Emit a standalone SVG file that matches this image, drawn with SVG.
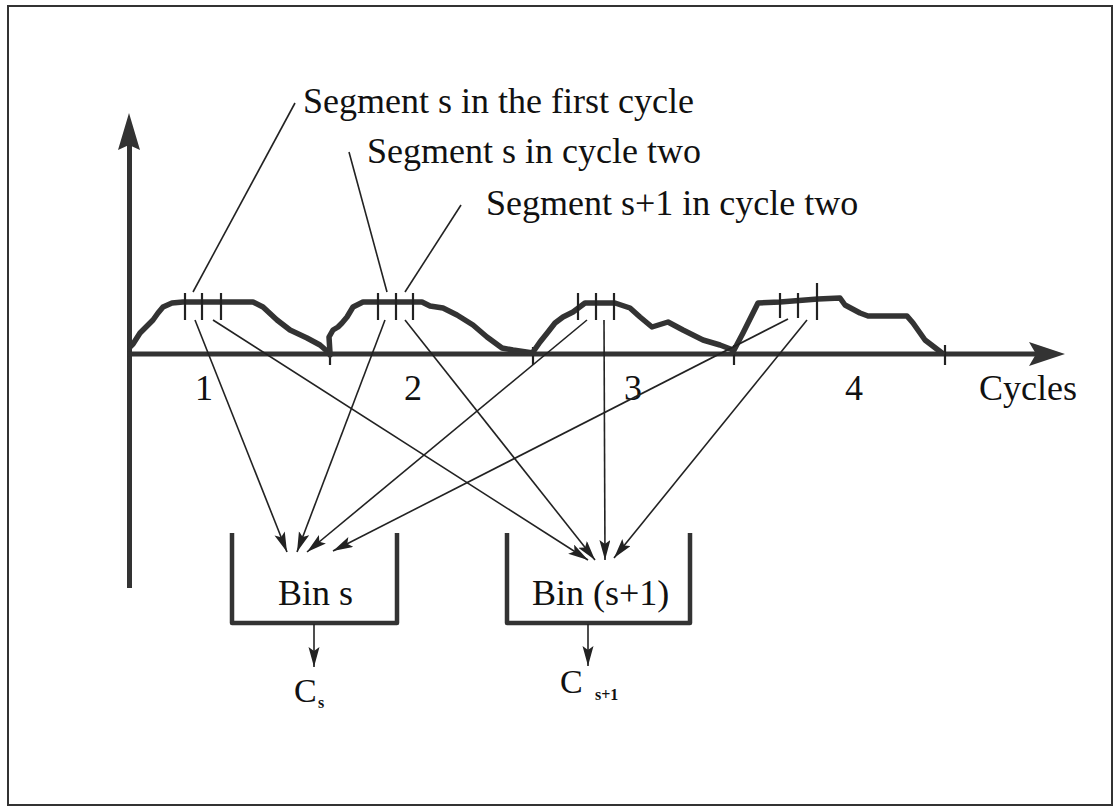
<svg xmlns="http://www.w3.org/2000/svg" width="1115" height="808" viewBox="0 0 1115 808">
  <defs>
    <marker id="ah" markerUnits="userSpaceOnUse" markerWidth="22" markerHeight="12" refX="20" refY="5.5" orient="auto">
      <path d="M0,0 L20,5.5 L0,11 L4,5.5 z" fill="#222"/>
    </marker>
  </defs>
  <style>
    .txt { font-family: "Liberation Serif", "Times New Roman", serif; font-size: 36px; fill: #111; }
    .big { font-family: "Liberation Serif", "Times New Roman", serif; font-size: 34px; fill: #111; }
    .sub { font-family: "Liberation Serif", "Times New Roman", serif; font-size: 16px; font-weight: bold; fill: #111; }
    .curve { fill: none; stroke: #333; stroke-width: 5.5; stroke-linejoin: round; stroke-linecap: round; }
    .axis { stroke: #333; stroke-width: 5; fill: none; }
    .tick { stroke: #222; stroke-width: 2.2; }
    .lead { stroke: #222; stroke-width: 1.6; fill: none; }
    .arr { stroke: #222; stroke-width: 1.6; fill: none; marker-end: url(#ah); }
    .bin { stroke: #333; stroke-width: 4.5; fill: none; stroke-linejoin: round; }
  </style>
  <rect width="1115" height="808" fill="#fff"/>
  <rect x="8" y="6" width="1104" height="799" fill="none" stroke="#333" stroke-width="2"/>

  <g id="axes">
    <line class="axis" x1="129.5" y1="588" x2="129.5" y2="140"/>
    <polygon points="129,113 118,150 129,145 140,150" fill="#333"/>
    <line class="axis" x1="127" y1="354" x2="1040" y2="354"/>
    <polygon points="1065,354 1029,342 1036,354 1029,366" fill="#333"/>
    <line class="tick" x1="330" y1="347" x2="330" y2="365"/>
    <line class="tick" x1="533" y1="347" x2="533" y2="365"/>
    <line class="tick" x1="734" y1="345" x2="734" y2="365"/>
    <line class="tick" x1="945" y1="345" x2="945" y2="365"/>
    <text class="txt" x="195" y="400">1</text>
    <text class="txt" x="404" y="400">2</text>
    <text class="txt" x="624" y="400">3</text>
    <text class="txt" x="845" y="400">4</text>
    <text class="txt" x="979" y="400">Cycles</text>
  </g>

  <g id="cycle1">
    <path class="curve" d="M130,347 L133,344 L140,333 L145,328 L150,323 L153,320 L158,313 L163,307 L172,303 L183,302 L253,302 L263,307 L277,320 L290,330 L307,338 L320,345 L328,352 L330,355"/>
    <line class="tick" x1="185" y1="293" x2="185" y2="320"/>
    <line class="tick" x1="202" y1="293" x2="202" y2="320"/>
    <line class="tick" x1="221" y1="293" x2="221" y2="320"/>
  </g>
  <g id="cycle2">
    <path class="curve" d="M330,353 L329,337 L333,330 L338,327 L342,323 L347,317 L353,307 L363,302 L422,302 L430,306 L443,308 L457,315 L473,325 L487,337 L502,348 L513,350 L533,353"/>
    <line class="tick" x1="378" y1="293" x2="378" y2="320"/>
    <line class="tick" x1="396" y1="293" x2="396" y2="320"/>
    <line class="tick" x1="413" y1="293" x2="413" y2="320"/>
  </g>
  <g id="cycle3">
    <path class="curve" d="M533,352 L540,342 L548,332 L555,323 L563,317 L573,312 L585,303 L615,303 L630,308 L640,317 L652,327 L668,322 L683,330 L703,340 L720,345 L733,350"/>
    <line class="tick" x1="578" y1="293" x2="578" y2="320"/>
    <line class="tick" x1="596" y1="293" x2="596" y2="320"/>
    <line class="tick" x1="614" y1="293" x2="614" y2="320"/>
  </g>
  <g id="cycle4">
    <path class="curve" d="M733,352 L743,333 L758,303 L780,302 L818,299 L840,298 L845,305 L860,313 L868,316 L907,316 L913,323 L925,340 L942,353"/>
    <line class="tick" x1="780" y1="293" x2="780" y2="318"/>
    <line class="tick" x1="798" y1="293" x2="798" y2="318"/>
    <line class="tick" x1="817" y1="283" x2="817" y2="320"/>
  </g>

  <g id="labels">
    <text class="txt" x="303" y="113">Segment s in the first cycle</text>
    <text class="txt" x="367" y="163">Segment s in cycle two</text>
    <text class="txt" x="486" y="215">Segment s+1 in cycle two</text>
  </g>

  <g id="bin-s">
    <polyline class="bin" points="232,533 232,623 397,623 397,533"/>
    <text class="txt" x="278" y="605">Bin s</text>
  </g>
  <g id="bin-s1">
    <polyline class="bin" points="507,533 507,623 690,623 690,533"/>
    <text class="txt" x="532" y="605">Bin (s+1)</text>
  </g>
  <g id="cs">
    <text class="big" x="294" y="702">C</text>
    <text class="sub" x="318" y="708">s</text>
  </g>
  <g id="cs1">
    <text class="big" x="560" y="693">C</text>
    <text class="sub" x="595" y="700">s+1</text>
  </g>

  <g id="connectors">
    <line class="lead" x1="295" y1="103" x2="193" y2="292"/>
    <line class="lead" x1="349" y1="152" x2="387" y2="292"/>
    <line class="lead" x1="461" y1="205" x2="405" y2="292"/>
    <line class="arr" x1="195" y1="320" x2="287" y2="552"/>
    <line class="arr" x1="385" y1="320" x2="297" y2="552"/>
    <line class="arr" x1="587" y1="320" x2="307" y2="552"/>
    <line class="arr" x1="788" y1="319" x2="333" y2="551"/>
    <line class="arr" x1="213" y1="320" x2="588" y2="560"/>
    <line class="arr" x1="405" y1="320" x2="595" y2="560"/>
    <line class="arr" x1="604" y1="320" x2="605" y2="560"/>
    <line class="arr" x1="807" y1="320" x2="614" y2="558"/>
    <line class="arr" x1="314" y1="624" x2="314" y2="667"/>
    <line class="arr" x1="588" y1="624" x2="588" y2="666"/>
  </g>
</svg>
